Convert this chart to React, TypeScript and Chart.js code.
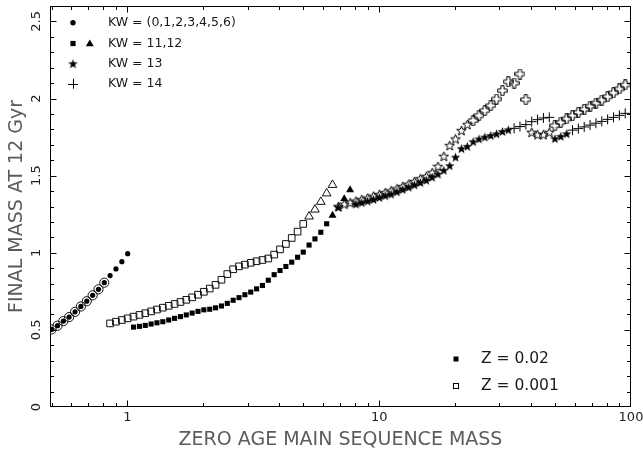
import React, { useEffect, useRef } from "react";
import { Chart, registerables } from "chart.js";

Chart.register(...registerables);

// ================= DATA =================
// Z = 0.02 (filled symbols)
const z02MassMS = [0.500, 0.528, 0.557, 0.587, 0.620, 0.654, 0.690, 0.728, 0.768, 0.810, 0.854, 0.901, 0.951, 1.003];
const z02FinalMS = [0.503, 0.527, 0.557, 0.583, 0.617, 0.652, 0.686, 0.724, 0.763, 0.806, 0.852, 0.895, 0.942, 0.994];

const z02MassWD = [1.058, 1.117, 1.178, 1.243, 1.311, 1.383, 1.460, 1.540, 1.625, 1.714, 1.808, 1.908, 2.013, 2.124, 2.240, 2.364, 2.494, 2.631, 2.776, 2.929, 3.090, 3.260, 3.439, 3.628, 3.828, 4.039, 4.261, 4.495, 4.743, 4.994, 5.268, 5.558, 5.864, 6.187];
const z02FinalWD = [0.518, 0.523, 0.529, 0.538, 0.546, 0.553, 0.564, 0.575, 0.586, 0.597, 0.609, 0.620, 0.630, 0.634, 0.643, 0.655, 0.672, 0.692, 0.709, 0.728, 0.745, 0.766, 0.788, 0.822, 0.858, 0.885, 0.911, 0.939, 0.971, 1.004, 1.050, 1.090, 1.133, 1.188];

const z02MassONe = [6.527, 7.265, 7.665];
const z02FinalONe = [1.242, 1.350, 1.408];

const z02MassNS = [6.886, 8.087, 8.532, 9.001, 9.496, 10.02, 10.57, 11.15, 11.77, 12.41, 13.10, 13.82, 14.58, 15.38, 16.23, 17.12, 18.06, 19.06, 20.10, 21.21, 22.38, 23.61, 24.91, 26.28, 27.73, 29.25, 30.86, 32.56, 49.87, 52.62, 55.51];
const z02FinalNS = [1.295, 1.315, 1.325, 1.335, 1.345, 1.358, 1.370, 1.380, 1.395, 1.410, 1.425, 1.440, 1.455, 1.470, 1.490, 1.510, 1.535, 1.565, 1.620, 1.675, 1.690, 1.720, 1.738, 1.750, 1.760, 1.771, 1.786, 1.797, 1.740, 1.755, 1.772];

const z02MassBH = [34.35, 36.24, 38.24, 40.34, 42.56, 44.90, 47.37, 58.57, 61.79, 65.19, 68.78, 72.57, 76.56, 80.77, 85.22, 89.91, 94.86];
const z02FinalBH = [1.807, 1.818, 1.831, 1.850, 1.863, 1.874, 1.878, 1.795, 1.805, 1.816, 1.828, 1.840, 1.852, 1.865, 1.878, 1.891, 1.904];

// Z = 0.001 (open symbols)
const z001MassMS = [0.500, 0.528, 0.557, 0.587, 0.620, 0.654, 0.690, 0.728, 0.768, 0.810];
const z001FinalMS = [0.503, 0.527, 0.557, 0.583, 0.617, 0.652, 0.686, 0.724, 0.763, 0.806];

const z001MassWD = [0.854, 0.901, 0.951, 1.003, 1.058, 1.117, 1.178, 1.243, 1.311, 1.383, 1.460, 1.540, 1.625, 1.714, 1.808, 1.908, 2.013, 2.124, 2.240, 2.364, 2.494, 2.631, 2.776, 2.929, 3.090, 3.260, 3.439, 3.628, 3.828, 4.039, 4.261, 4.495, 4.743, 4.994];
const z001FinalWD = [0.542, 0.553, 0.564, 0.575, 0.586, 0.597, 0.608, 0.620, 0.632, 0.644, 0.656, 0.668, 0.681, 0.695, 0.711, 0.728, 0.747, 0.768, 0.792, 0.825, 0.862, 0.893, 0.912, 0.923, 0.935, 0.945, 0.953, 0.963, 0.988, 1.022, 1.057, 1.096, 1.137, 1.187];

const z001MassONe = [5.268, 5.558, 5.864, 6.187, 6.527];
const z001FinalONe = [1.235, 1.280, 1.330, 1.385, 1.440];

const z001MassNS = [6.886, 7.265, 7.665, 8.087, 8.532, 9.001, 9.496, 10.02, 10.57, 11.15, 11.77, 12.41, 13.10, 13.82, 14.58, 15.38, 16.23, 17.12, 18.06, 19.06, 20.10, 21.21, 22.38, 40.34, 42.56, 44.90, 47.37];
const z001FinalNS = [1.300, 1.315, 1.325, 1.335, 1.345, 1.355, 1.367, 1.378, 1.390, 1.402, 1.415, 1.430, 1.445, 1.462, 1.480, 1.495, 1.520, 1.560, 1.625, 1.695, 1.738, 1.792, 1.831, 1.781, 1.766, 1.766, 1.781];

const z001MassBH = [23.61, 24.91, 26.28, 27.73, 29.25, 30.86, 32.56, 34.35, 36.24, 38.24, 49.87, 52.62, 55.51, 58.57, 61.79, 65.19, 68.78, 72.57, 76.56, 80.77, 85.22, 89.91, 94.86];
const z001FinalBH = [1.857, 1.889, 1.922, 1.954, 1.997, 2.051, 2.109, 2.100, 2.159, 1.993, 1.824, 1.846, 1.868, 1.889, 1.910, 1.930, 1.950, 1.970, 1.990, 2.012, 2.037, 2.062, 2.088];

// Axis / text
const xTickLabels = [1, 10, 100];
const yTickLabels = [0, 0.5, 1, 1.5, 2, 2.5];
const xTitle = "ZERO AGE MAIN SEQUENCE MASS";
const yTitle = "FINAL MASS AT 12 Gyr";
const kwLegend = ["KW = (0,1,2,3,4,5,6)", "KW = 11,12", "KW = 13", "KW = 14"];
const zLegend = ["Z = 0.02", "Z = 0.001"];

const FONT = "'DejaVu Sans', sans-serif";

// ================= helpers =================
const pts = (xs: number[], ys: number[]) => xs.map((x, i) => ({ x, y: ys[i] }));

function makeStar(filled: boolean): HTMLCanvasElement {
  const size = 11;
  const c = document.createElement("canvas");
  c.width = size;
  c.height = size;
  const ctx = c.getContext("2d")!;
  const cx = size / 2, cy = size / 2 + 0.4;
  const R = 5.0, r = R * 0.42;
  ctx.beginPath();
  for (let k = 0; k < 10; k++) {
    const ang = -Math.PI / 2 + (k * Math.PI) / 5;
    const rad = k % 2 === 0 ? R : r;
    const px = cx + rad * Math.cos(ang), py = cy + rad * Math.sin(ang);
    if (k === 0) ctx.moveTo(px, py);
    else ctx.lineTo(px, py);
  }
  ctx.closePath();
  if (filled) {
    ctx.fillStyle = "#000";
    ctx.fill();
  } else {
    ctx.strokeStyle = "#000";
    ctx.lineWidth = 1;
    ctx.stroke();
  }
  return c;
}

function makeOpenCross(): HTMLCanvasElement {
  const size = 11;
  const c = document.createElement("canvas");
  c.width = size;
  c.height = size;
  const ctx = c.getContext("2d")!;
  const cx = 5.5, cy = 5.5, a = 1.6, L = 4.8;
  const p: [number, number][] = [
    [-a, -L], [a, -L], [a, -a], [L, -a], [L, a], [a, a], [a, L], [-a, L], [-a, a], [-L, a], [-L, -a], [-a, -a],
  ];
  ctx.beginPath();
  p.forEach(([dx, dy], i) => (i === 0 ? ctx.moveTo(cx + dx, cy + dy) : ctx.lineTo(cx + dx, cy + dy)));
  ctx.closePath();
  ctx.strokeStyle = "#000";
  ctx.lineWidth = 1;
  ctx.stroke();
  return c;
}

const isDecade = (v: number) => xTickLabels.some((t) => Math.abs(t - v) < 1e-6 * t);

// frame + inward ticks on all four sides
const framePlugin = {
  id: "frame",
  beforeDatasetsDraw(chart: any) {
    const { ctx, chartArea: a, scales } = chart;
    const xs = scales.x, ys = scales.y;
    ctx.save();
    ctx.strokeStyle = "#000";
    ctx.lineWidth = 1;
    ctx.strokeRect(a.left + 0.5, a.top + 0.5, a.right - a.left - 1, a.bottom - a.top - 1);
    ctx.beginPath();
    for (let dec = -1; dec <= 2; dec++) {
      for (let m = 1; m <= 9; m++) {
        const v = m * Math.pow(10, dec);
        if (v < xs.min - 1e-9 || v > xs.max + 1e-9) continue;
        const px = Math.round(xs.getPixelForValue(v)) + 0.5;
        if (px <= a.left + 1 || px >= a.right - 1) continue;
        const len = m === 1 ? 6 : 3.5;
        ctx.moveTo(px, a.bottom - 0.5);
        ctx.lineTo(px, a.bottom - 0.5 - len);
        ctx.moveTo(px, a.top + 0.5);
        ctx.lineTo(px, a.top + 0.5 + len);
      }
    }
    for (let k = 1; k <= 25; k++) {
      const v = k / 10;
      const py = Math.round(ys.getPixelForValue(v)) + 0.5;
      const len = k % 5 === 0 ? 6 : 3.5;
      ctx.moveTo(a.left + 0.5, py);
      ctx.lineTo(a.left + 0.5 + len, py);
      ctx.moveTo(a.right - 0.5, py);
      ctx.lineTo(a.right - 0.5 - len, py);
    }
    ctx.stroke();
    ctx.restore();
  },
};

function makeLegendPlugin(starFilled: HTMLCanvasElement) {
  return {
    id: "kwlegend",
    afterDraw(chart: any) {
      const { ctx, chartArea: a } = chart;
      const L = a.left, T = a.top, R = a.right, B = a.bottom;
      ctx.save();
      ctx.fillStyle = "#000";
      ctx.strokeStyle = "#000";
      ctx.lineWidth = 1;
      const sx = L + 23;
      const rows = [T + 16.7, T + 37.5, T + 57.7, T + 77.7];
      ctx.beginPath();
      ctx.arc(sx, rows[0], 2.7, 0, Math.PI * 2);
      ctx.fill();
      ctx.fillRect(sx - 2.6, rows[1] - 2.6, 5.2, 5.2);
      const tx = sx + 16.8, tr = 4.6, ty = rows[1] + 0.5;
      ctx.beginPath();
      ctx.moveTo(tx, ty - tr);
      ctx.lineTo(tx + tr * Math.sin((2 * Math.PI) / 3), ty + tr / 2);
      ctx.lineTo(tx - tr * Math.sin((2 * Math.PI) / 3), ty + tr / 2);
      ctx.closePath();
      ctx.fill();
      ctx.drawImage(starFilled, sx - starFilled.width / 2, rows[2] - starFilled.height / 2);
      ctx.beginPath();
      ctx.moveTo(sx - 5, Math.round(rows[3]) + 0.5);
      ctx.lineTo(sx + 5, Math.round(rows[3]) + 0.5);
      ctx.moveTo(Math.round(sx) + 0.5, rows[3] - 5);
      ctx.lineTo(Math.round(sx) + 0.5, rows[3] + 5);
      ctx.stroke();
      ctx.fillStyle = "#1a1a1a";
      ctx.font = `12.5px ${FONT}`;
      ctx.textBaseline = "middle";
      ctx.textAlign = "left";
      kwLegend.forEach((t, i) => ctx.fillText(t, L + 58, rows[i]));

      const zx = R - 175, zr = [B - 48, B - 21];
      ctx.fillStyle = "#000";
      ctx.fillRect(zx - 2.5, zr[0] - 2.5, 5, 5);
      ctx.strokeRect(Math.round(zx - 3) + 0.5, Math.round(zr[1] - 3) + 0.5, 5, 5);
      ctx.fillStyle = "#1a1a1a";
      ctx.font = `15.5px ${FONT}`;
      zLegend.forEach((t, i) => ctx.fillText(t, zx + 25, zr[i]));
      ctx.restore();
    },
  };
}

export default function App() {
  const ref = useRef<HTMLCanvasElement>(null);

  useEffect(() => {
    const canvas = ref.current;
    if (!canvas) return;
    const starFilled = makeStar(true);
    const starOpen = makeStar(false);
    const openCross = makeOpenCross();

    const base = { showLine: false, pointHoverRadius: 0 };
    const datasets: any[] = [
      { ...base, label: "Z=0.001 KW0-6", data: pts(z001MassMS, z001FinalMS), pointStyle: "circle", pointRadius: 4.6, pointBackgroundColor: "rgba(0,0,0,0)", pointBorderColor: "#111", pointBorderWidth: 1 },
      { ...base, label: "Z=0.02 KW0-6", data: pts(z02MassMS, z02FinalMS), pointStyle: "circle", pointRadius: 2.6, pointBackgroundColor: "#000", pointBorderWidth: 0 },
      { ...base, label: "Z=0.001 KW11", data: pts(z001MassWD, z001FinalWD), pointStyle: "rect", pointRadius: 4.7, pointBackgroundColor: "rgba(0,0,0,0)", pointBorderColor: "#111", pointBorderWidth: 1 },
      { ...base, label: "Z=0.02 KW11", data: pts(z02MassWD, z02FinalWD), pointStyle: "rect", pointRadius: 3.6, pointBackgroundColor: "#000", pointBorderWidth: 0 },
      { ...base, label: "Z=0.001 KW12", data: pts(z001MassONe, z001FinalONe), pointStyle: "triangle", pointRadius: 5, pointBackgroundColor: "rgba(0,0,0,0)", pointBorderColor: "#111", pointBorderWidth: 1 },
      { ...base, label: "Z=0.02 KW12", data: pts(z02MassONe, z02FinalONe), pointStyle: "triangle", pointRadius: 4.6, pointBackgroundColor: "#000", pointBorderWidth: 0 },
      { ...base, label: "Z=0.001 KW13", data: pts(z001MassNS, z001FinalNS), pointStyle: starOpen, pointRadius: 5 },
      { ...base, label: "Z=0.02 KW13", data: pts(z02MassNS, z02FinalNS), pointStyle: starFilled, pointRadius: 5 },
      { ...base, label: "Z=0.001 KW14", data: pts(z001MassBH, z001FinalBH), pointStyle: openCross, pointRadius: 5 },
      { ...base, label: "Z=0.02 KW14", data: pts(z02MassBH, z02FinalBH), pointStyle: "cross", pointRadius: 5, pointBorderColor: "#000", pointBorderWidth: 1 },
    ];

    const chart = new Chart(canvas, {
      type: "scatter",
      data: { datasets },
      options: {
        responsive: false,
        animation: false,
        devicePixelRatio: 1,
        events: [],
        layout: { padding: { left: 0, right: 12, top: 4, bottom: 0 } },
        plugins: { legend: { display: false }, tooltip: { enabled: false } },
        scales: {
          x: {
            type: "logarithmic",
            position: "bottom",
            min: 0.493,
            max: 100,
            grid: { display: false, drawTicks: false },
            border: { display: false },
            ticks: {
              autoSkip: false,
              maxRotation: 0,
              minRotation: 0,
              padding: 3,
              color: "#222",
              font: { family: FONT, size: 13 },
              callback: (v: any) => (isDecade(Number(v)) ? String(Math.round(Number(v))) : ""),
            },
            title: { display: true, text: xTitle, color: "#5c5c5c", font: { family: FONT, size: 19 }, padding: { top: 0, bottom: 1 } },
            afterFit: (s: any) => {
              s.height = 45;
              s.paddingLeft = 0;
              s.paddingRight = 0;
            },
          },
          y: {
            type: "linear",
            min: 0,
            max: 2.6,
            grid: { display: false, drawTicks: false },
            border: { display: false },
            ticks: {
              stepSize: 0.5,
              includeBounds: false,
              minRotation: 90,
              maxRotation: 90,
              crossAlign: "center",
              padding: 3,
              color: "#222",
              font: { family: FONT, size: 13 },
              callback: (v: any) => (yTickLabels.some((t) => Math.abs(t - Number(v)) < 1e-6) ? String(Number(v)) : ""),
            },
            title: { display: true, text: yTitle, color: "#5c5c5c", font: { family: FONT, size: 19 }, padding: { top: 6, bottom: 0 } },
            afterFit: (s: any) => {
              s.width = 50;
              s.paddingTop = 0;
              s.paddingBottom = 0;
            },
          },
        },
      } as any,
      plugins: [framePlugin, makeLegendPlugin(starFilled)],
    });
    return () => chart.destroy();
  }, []);

  return (
    <div style={{ position: "fixed", left: 0, top: 0, width: 643, height: 452, background: "#fff" }}>
      <canvas ref={ref} width={643} height={452} style={{ display: "block" }} />
    </div>
  );
}
